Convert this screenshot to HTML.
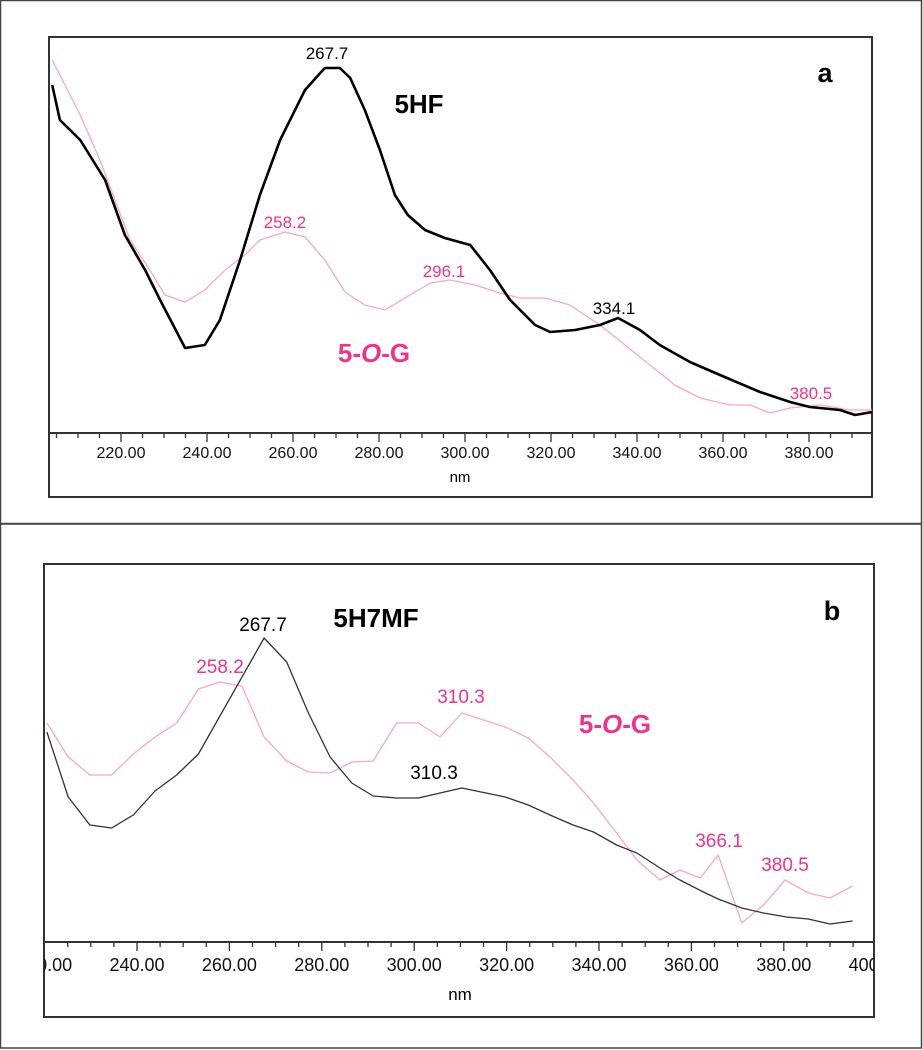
<!DOCTYPE html>
<html><head><meta charset="utf-8"><style>
html,body{margin:0;padding:0;background:#fff}
svg{display:block;font-family:"Liberation Sans",Arial,sans-serif}
</style></head><body>
<svg id="chart" width="923" height="1050" viewBox="0 0 923 1050">
<rect x="0.5" y="0.5" width="921" height="523" fill="none" stroke="#444" stroke-width="1.5"/>
<rect x="0.5" y="524" width="921" height="524" fill="none" stroke="#444" stroke-width="1.5"/>
<rect x="49" y="37" width="823" height="460" fill="none" stroke="#333" stroke-width="2"/>
<rect x="44" y="564" width="830" height="453" fill="none" stroke="#333" stroke-width="2"/>
<g id="ga"></g>
<g id="gb"></g>
<text x="825" y="82" font-size="27" font-weight="bold" text-anchor="middle">a</text>
<text x="419" y="113" font-size="26" font-weight="bold" text-anchor="middle">5HF</text>
<text x="374" y="362" font-size="26" font-weight="bold" fill="#f0338a" text-anchor="middle">5-<tspan font-style="italic">O</tspan>-G</text>
<text x="327" y="59" font-size="17" text-anchor="middle">267.7</text>
<text x="285" y="228" font-size="17" fill="#f0338a" text-anchor="middle">258.2</text>
<text x="444" y="277" font-size="17" fill="#f0338a" text-anchor="middle">296.1</text>
<text x="614" y="314" font-size="17" text-anchor="middle">334.1</text>
<text x="811" y="399" font-size="17" fill="#f0338a" text-anchor="middle">380.5</text>
<text x="460" y="482" font-size="15" text-anchor="middle">nm</text>

<text x="832" y="620" font-size="27" font-weight="bold" text-anchor="middle">b</text>
<text x="376" y="627" font-size="26" font-weight="bold" text-anchor="middle">5H7MF</text>
<text x="615" y="733" font-size="26" font-weight="bold" fill="#f0338a" text-anchor="middle">5-<tspan font-style="italic">O</tspan>-G</text>
<text x="263" y="631" font-size="19" text-anchor="middle">267.7</text>
<text x="220" y="673" font-size="19" fill="#f0338a" text-anchor="middle">258.2</text>
<text x="461" y="703" font-size="19" fill="#f0338a" text-anchor="middle">310.3</text>
<text x="434" y="779" font-size="19" text-anchor="middle">310.3</text>
<text x="719" y="847" font-size="19" fill="#f0338a" text-anchor="middle">366.1</text>
<text x="785" y="871" font-size="19" fill="#f0338a" text-anchor="middle">380.5</text>
<text x="460" y="1000" font-size="17" text-anchor="middle">nm</text>
</svg>
<script>
// Panel a data
const aBlackWl=[204,205.8,210.5,216.3,220.9,225.6,229.1,234.9,239.5,243,247.7,252.3,257,262.8,267.4,270.9,273.3,276.7,280.2,283.7,286.7,290.7,295.3,301.2,305.8,310.5,316.3,319.8,325.6,331.4,335.6,340.7,345.3,352.3,359.3,368.6,375.6,380.2,387.2,390.7,394.7];
const aBlackVal=[348,313,293,253,198,163,133,85,88,113,173,238,293,343,365,365,355,323,283,238,218,203,195,188,163,133,108,101,103,108,115,103,88,71,58,41,31,26,23,18,21];
const aPinkWl=[204,205.8,210.5,215.1,218.6,222.1,226.7,230.2,234.9,239.5,244.2,248.8,252.3,258.1,262.8,267.4,272.1,276.7,281.4,286,291.9,296.5,302.3,308.1,312.8,318.6,324.4,331.4,337.2,343,348.8,354.7,361.6,366.3,370.9,375.6,382.6,389.5,394.7];
const aPinkVal=[373,358,318,273,233,193,163,138,131,143,163,178,193,201,196,173,141,128,123,135,150,153,148,140,135,135,128,108,88,68,48,35,28,28,20,25,28,23,23];
const aTicks=[220,240,260,280,300,320,340,360,380];
// Panel b data
const bBlackWl=[220.5,225.1,229.8,234.5,239.2,243.9,248.6,253.3,267.5,272.4,277.1,281.8,286.5,291.1,296.2,300.9,305.6,310.3,319.7,324.7,329.4,334.4,338.8,343.8,348.2,353.2,357.5,362.6,365.8,370.9,375.6,380.6,385.3,390,394.9];
const bBlackVal=[210,145,117,114,127,151,167,188,304,280,229,185,159,146,144,144,149,154,145,137,127,117,110,97,89,74,62,50,43,34,29,25,23,18,21];
const bPinkWl=[220.5,225.1,229.8,234.5,239.2,243.9,248.6,253.3,258,262.7,267.5,272.4,277.1,281.8,286.5,291.1,296.2,300.9,305.6,310.3,319.7,324.7,329.4,334.4,338.8,343.8,348.2,353.2,357.5,361.9,365.8,370.9,375.6,380.3,385.3,390,394.9];
const bPinkVal=[219,185,167,167,188,205,219,253,260,256,205,181,170,169,180,181,219,219,205,229,215,204,185,162,139,109,82,62,72,64,87,19,37,62,49,44,56];
const bTicks=[220,240,260,280,300,320,340,360,380,400];

const NS='http://www.w3.org/2000/svg';
function mk(tag,attrs,parent){const e=document.createElementNS(NS,tag);for(const k in attrs)e.setAttribute(k,attrs[k]);parent.appendChild(e);return e;}

function panel(g,cfg){
  const xs=w=>cfg.x0+(w-cfg.w0)*cfg.k;
  const ys=v=>cfg.axisY-v*cfg.vk;
  const ax=mk('line',{x1:cfg.left,x2:cfg.right,y1:cfg.axisY,y2:cfg.axisY,stroke:'#333','stroke-width':2},g);
  
  
  for(let w=cfg.tMin;w<=cfg.tMax;w+=5){
    const x=xs(w); if(x<cfg.left+2||x>cfg.right+1) continue;
    const major=w%20===0;
    const t=mk('line',{x1:x,x2:x,y1:cfg.axisY,y2:cfg.axisY+(major?9:5),stroke:'#333','stroke-width':1.3},g);
    
    
  }
  cfg.ticks.forEach(w=>{
    const lb=mk('text',{x:xs(w),y:cfg.axisY+cfg.lblDy,'font-size':cfg.fs,'text-anchor':'middle',fill:'#111'},g);
    lb.textContent=w.toFixed(2);
    
    
  });
  const line=(wl,val,color,sw,name)=>{
    const p=mk('polyline',{points:wl.map((w,i)=>xs(w).toFixed(1)+','+ys(val[i]).toFixed(1)).join(' '),fill:'none',stroke:color,'stroke-width':sw,'stroke-linejoin':'round'},g);
    
    
  };
  line(cfg.pw,cfg.pv,'#f7a8c4',1.3,'series-5-o-g');
  line(cfg.bw,cfg.bv,cfg.bc,cfg.bsw,'series-black');
}
const ga=document.getElementById('ga'), gb=document.getElementById('gb');
const defs=mk('defs',{},document.getElementById('chart'));
const ca=mk('clipPath',{id:'ca'},defs); mk('rect',{x:49,y:37,width:823,height:460},ca);
const cb=mk('clipPath',{id:'cb'},defs); mk('rect',{x:44,y:564,width:830,height:453},cb);
ga.setAttribute('clip-path','url(#ca)'); gb.setAttribute('clip-path','url(#cb)');
panel(ga,{x0:121,w0:220,k:4.3,axisY:433,vk:1,left:49,right:872,tMin:205,tMax:395,ticks:aTicks,fs:16,lblDy:25,
  bw:aBlackWl,bv:aBlackVal,bc:'#000',bsw:2.6,pw:aPinkWl,pv:aPinkVal});
panel(gb,{x0:137,w0:240,k:4.62,axisY:942,vk:1,left:44,right:874,tMin:220,tMax:400,ticks:bTicks,fs:18,lblDy:29,
  bw:bBlackWl,bv:bBlackVal,bc:'#333',bsw:1.3,pw:bPinkWl,pv:bPinkVal});
</script>
</body></html>
